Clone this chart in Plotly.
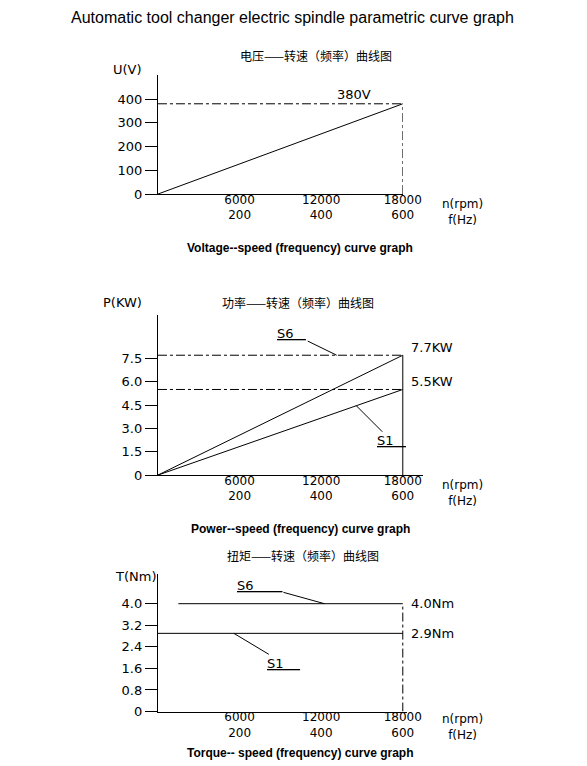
import plotly.graph_objects as go

W, H = 587, 766

rpm_ticks = [0, 6000, 12000, 18000]
hz_ticks = ["", "200", "400", "600"]
n_max = 18000

u_ticks = [0, 100, 200, 300, 400]
u_rated = 380

p_ticks = [0, 1.5, 3.0, 4.5, 6.0, 7.5]
p_s6 = 7.7
p_s1 = 5.5

t_ticks = [0, 0.8, 1.6, 2.4, 3.2, 4.0]
t_s6 = 4.0
t_s1 = 2.9
t_s6_start = 1500

CAD = "DejaVu Sans"


def px_x(p):
    return p / W


def px_y(p):
    return 1 - p / H


fig = go.Figure()

# (y pixel of zero, y pixel of top, y range max, x range max)
panels = [(188, 68, 500, 18000), (472, 310, 10.3, 19500), (711, 572, 5.1, 18300)]
ytick_sets = [u_ticks, p_ticks, t_ticks]

for i, (y0, y1, ymax, xmax) in enumerate(panels):
    k = "" if i == 0 else str(i + 1)
    x_end = 155 + (408 - 155) * xmax / n_max
    ticktext = [("" if v == 0 else f"{v}") + "<br>" + h for v, h in zip(rpm_ticks, hz_ticks)]
    yt = ytick_sets[i]
    ytext = [("0" if v == 0 else (f"{v:.1f}" if i else f"{v}")) for v in yt]
    fig.update_layout(**{
        "xaxis" + k: dict(domain=[px_x(155), px_x(x_end)], range=[0, xmax],
                          anchor="y" + k, tickvals=rpm_ticks, ticktext=ticktext,
                          showgrid=False, zeroline=False, showline=True,
                          linecolor="black", linewidth=1.2, ticks="",
                          ticklabelstandoff=-6,
                          tickfont=dict(family=CAD, size=12, color="black")),
        "yaxis" + k: dict(domain=[px_y(y0), px_y(y1)], range=[0, ymax],
                          anchor="x" + k, tickvals=yt, ticktext=ytext,
                          showgrid=False, zeroline=False, showline=True,
                          linecolor="black", linewidth=1.2, ticks="outside",
                          ticklen=12, tickcolor="black",
                          tickfont=dict(family=CAD, size=13, color="black")),
    })

dd = dict(color="black", width=1, dash="dashdot")
solid = dict(color="black", width=1)


def line(x, y, ax, style):
    fig.add_trace(go.Scatter(x=x, y=y, mode="lines", line=style, showlegend=False,
                             xaxis="x" + ax, yaxis="y" + ax, hoverinfo="skip"))


# voltage
line([0, n_max], [0, u_rated], "", solid)
line([0, n_max], [u_rated, u_rated], "", dd)
line([n_max, n_max], [0, u_rated], "", dd)
# power
line([0, n_max], [0, p_s6], "2", solid)
line([0, n_max], [0, p_s1], "2", solid)
line([0, n_max], [p_s6, p_s6], "2", dd)
line([0, n_max], [p_s1, p_s1], "2", dd)
line([n_max, n_max], [0, p_s6], "2", solid)
# torque
line([t_s6_start, n_max], [t_s6, t_s6], "3", solid)
line([0, n_max], [t_s1, t_s1], "3", solid)
line([n_max, n_max], [0, t_s6], "3", dd)

ann = []


def text(x, y, s, size=13, font=CAD, xanchor="center", **kw):
    ann.append(dict(x=x, y=y, xref="paper", yref="paper", text=s, showarrow=False,
                    xanchor=xanchor, yanchor="middle",
                    font=dict(family=font, size=size, color="black"), **kw))


text(0.5, px_y(10), "Automatic tool changer electric spindle parametric curve graph",
     size=16, font="Liberation Sans")
text(px_x(318), px_y(48), "电压——转速（频率）曲线图", size=12, font="Noto Sans CJK SC")
text(px_x(300), px_y(298), "功率——转速（频率）曲线图", size=12, font="Noto Sans CJK SC")
text(px_x(305), px_y(553), "扭矩——转速（频率）曲线图", size=12, font="Noto Sans CJK SC")
text(px_x(302), px_y(243), "<b>Voltage--speed (frequency) curve graph</b>", size=12, font="Liberation Sans")
text(px_x(302), px_y(526), "<b>Power--speed (frequency) curve graph</b>", size=12, font="Liberation Sans")
text(px_x(302), px_y(753), "<b>Torque-- speed (frequency) curve graph</b>", size=12, font="Liberation Sans")
text(px_x(123), px_y(62), "U(V)")
text(px_x(118), px_y(298), "P(KW)")
text(px_x(132), px_y(574), "T(Nm)")
for yy in (206, 490, 727):
    text(px_x(470), px_y(yy), "n(rpm)<br>f(Hz)", size=12)

lbl = dict(family=CAD, size=13, color="black")
ann.append(dict(x=n_max * 0.8, y=u_rated, xref="x", yref="y", text=f"{u_rated}V",
                showarrow=False, yanchor="bottom", font=lbl))
for val, ax, unit in [(p_s6, "2", "KW"), (p_s1, "2", "KW"), (t_s6, "3", "Nm"), (t_s1, "3", "Nm")]:
    ann.append(dict(x=n_max, y=val, xref="x" + ax, yref="y" + ax, text=f"{val}{unit}",
                    showarrow=False, xanchor="left", xshift=6, yshift=8 if unit == "KW" else 0,
                    font=lbl))
# leaders
for x, y, ax, s, dx, dy in [(n_max * 0.73, p_s6, "2", "<u>S6   </u>", -45, -22),
                            (n_max * 0.81, p_s1 * 0.81, "2", "<u>S1   </u>", 35, 35),
                            (n_max * 0.68, t_s6, "3", "<u>S6       </u>", -65, -18),
                            (n_max * 0.31, t_s1, "3", "<u>S1    </u>", 50, 30)]:
    ann.append(dict(x=x, y=y, xref="x" + ax, yref="y" + ax, text=s, ax=dx, ay=dy,
                    arrowhead=0, arrowwidth=1, arrowcolor="black", font=lbl))

fig.update_layout(width=W, height=H, margin=dict(l=0, r=0, t=0, b=0),
                  paper_bgcolor="white", plot_bgcolor="white",
                  annotations=ann, showlegend=False)
fig.write_html("out.html")
